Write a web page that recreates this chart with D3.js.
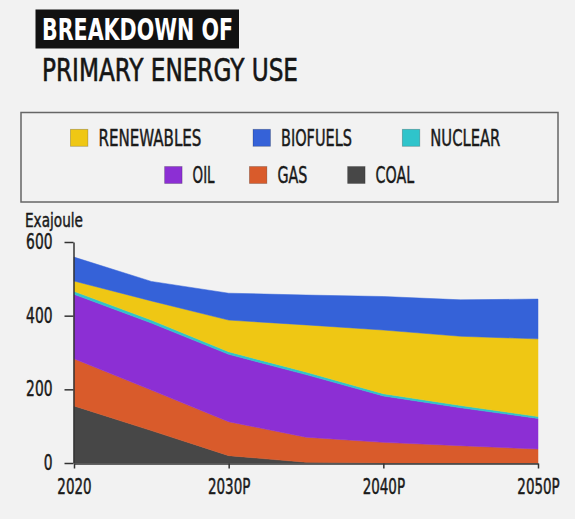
<!DOCTYPE html>
<html>
<head>
<meta charset="utf-8">
<script src="https://cdn.jsdelivr.net/npm/d3@7"></script>
<style>
  body { margin: 0; background: #f2f2f2; }
  svg { display: block; }
  text { font-family: "DejaVu Sans Condensed", "DejaVu Sans", sans-serif; font-stretch: condensed; fill: #1a1a1a; }
  .label { stroke: #1a1a1a; stroke-width: 0.45; }
  .axis path, .axis line { stroke: #333; stroke-width: 1.5; }
</style>
</head>
<body>
<div class="chart"></div>
<script>
// data (Exajoule)
const years = [2020, 2025, 2030, 2035, 2040, 2045, 2050]
const seriesKeys = ['coal', 'gas', 'oil', 'nuclear', 'renewables', 'biofuels']
const coal = [155, 88, 20, 2, 0, 0, 0]
const gas = [128, 110, 92, 68, 56, 47, 38]
const oil = [175, 182, 183, 170, 126, 103, 83]
const nuclear = [8, 8, 7, 7, 6, 6, 5]
const renewables = [28, 52, 86, 128, 173, 188, 211]
const biofuels = [65, 53, 73, 81, 91, 99, 108]

const xTicks = [2020, 2030, 2040, 2050]
const xTickLabels = ['2020', '2030P', '2040P', '2050P']
const yTicks = [0, 200, 400, 600]

// legend rows, in the order shown
const legendRow1 = ['renewables', 'biofuels', 'nuclear']
const legendRow2 = ['oil', 'gas', 'coal']
const legendNames = { renewables: 'RENEWABLES', biofuels: 'BIOFUELS', nuclear: 'NUCLEAR', oil: 'OIL', gas: 'GAS', coal: 'COAL' }

const colors = {
  coal: '#474747',
  gas: '#d95b2b',
  oil: '#8c2fd4',
  nuclear: '#2fc4cb',
  renewables: '#efc714',
  biofuels: '#3562d8'
}

const rows = years.map((y, i) => ({
  year: y, coal: coal[i], gas: gas[i], oil: oil[i],
  nuclear: nuclear[i], renewables: renewables[i], biofuels: biofuels[i]
}))

const svg_width = 575
const svg_height = 519
const svg = d3.select('.chart').append('svg')
  .attr('width', svg_width).attr('height', svg_height)

svg.append('rect').attr('width', svg_width).attr('height', svg_height).attr('fill', '#f2f2f2')

// squeeze text horizontally, the source font is very condensed
function squeeze(sel, ratio) {
  sel.each(function () {
    const len = this.getComputedTextLength()
    d3.select(this).attr('textLength', len * ratio).attr('lengthAdjust', 'spacingAndGlyphs')
  })
}

// title
svg.append('rect').attr('x', 35.5).attr('y', 9.5).attr('width', 203.5).attr('height', 39).attr('fill', '#111')
svg.append('text').attr('x', 42).attr('y', 40)
  .style('font-size', '30px').style('font-weight', 'bold').style('fill', '#fff')
  .attr('textLength', 191).attr('lengthAdjust', 'spacingAndGlyphs')
  .text('BREAKDOWN OF')
svg.append('text').attr('x', 42).attr('y', 80.7).attr('class', 'label')
  .style('font-size', '32px').style('fill', '#151515').style('stroke', '#151515').style('stroke-width', 0.6)
  .attr('textLength', 256).attr('lengthAdjust', 'spacingAndGlyphs')
  .text('PRIMARY ENERGY USE')

// legend
svg.append('rect').attr('x', 21).attr('y', 112.5).attr('width', 537).attr('height', 89.5)
  .attr('fill', 'none').attr('stroke', '#666').attr('stroke-width', 1.5)

const legendWidths = { renewables: 103, biofuels: 71, nuclear: 70, oil: 22, gas: 30, coal: 38.5 }

function drawLegendRow(keys, xs, cy) {
  const g = svg.append('g').selectAll('g').data(keys).join('g')
    .attr('transform', (d, i) => `translate(${xs[i]}, ${cy})`)
  g.append('rect').attr('x', 0).attr('y', -8.5).attr('width', 17.5).attr('height', 17)
    .attr('fill', d => colors[d]).attr('stroke', 'rgba(0,0,0,0.25)').attr('stroke-width', 0.8)
  g.append('text').attr('x', 28).attr('y', 8.4).attr('class', 'label')
    .style('font-size', '23px')
    .attr('textLength', d => legendWidths[d]).attr('lengthAdjust', 'spacingAndGlyphs')
    .text(d => legendNames[d])
}
drawLegendRow(legendRow1, [70.4, 253, 402.3], 137.8)
drawLegendRow(legendRow2, [164.6, 249.4, 347.6], 175)

// scales
const xScale = d3.scaleLinear([2020, 2050], [74, 538])
const yScale = d3.scaleLinear([0, 600], [463, 242])

const stacked = d3.stack().keys(seriesKeys)(rows)
const area = d3.area()
  .x(d => xScale(d.data.year))
  .y0(d => yScale(d[0]))
  .y1(d => yScale(d[1]))

svg.append('g').attr('class', 'areas')
  .selectAll('path').data(stacked).join('path')
  .attr('d', area)
  .attr('fill', d => colors[d.key])
  .attr('stroke', d => colors[d.key]).attr('stroke-width', 0.5)

// axes
const yAxis = d3.axisLeft(yScale).tickValues(yTicks).tickSize(9).tickSizeOuter(0).tickPadding(12)
const yAxisDraw = svg.append('g').attr('class', 'y axis').attr('transform', 'translate(73.5, 0)').call(yAxis)
const yt = yAxisDraw.selectAll('text').attr('class', 'label')
  .style('font-size', '20.5px').style('fill', '#1a1a1a').style('font-family', '"DejaVu Sans Condensed", sans-serif')
squeeze(yt, 0.75)

const xAxis = d3.axisBottom(xScale).tickValues(xTicks)
  .tickFormat((d, i) => xTickLabels[i]).tickSize(5).tickSizeOuter(0).tickPadding(11)
const xAxisDraw = svg.append('g').attr('class', 'x axis').attr('transform', 'translate(0, 463.5)').call(xAxis)
const xt = xAxisDraw.selectAll('text').attr('class', 'label')
  .style('font-size', '20.5px').style('fill', '#1a1a1a').style('font-family', '"DejaVu Sans Condensed", sans-serif')
squeeze(xt, 0.73)

svg.append('text').attr('x', 25).attr('y', 226.7).attr('class', 'label')
  .style('font-size', '20px')
  .attr('textLength', 58).attr('lengthAdjust', 'spacingAndGlyphs')
  .text('Exajoule')
</script>
</body>
</html>
